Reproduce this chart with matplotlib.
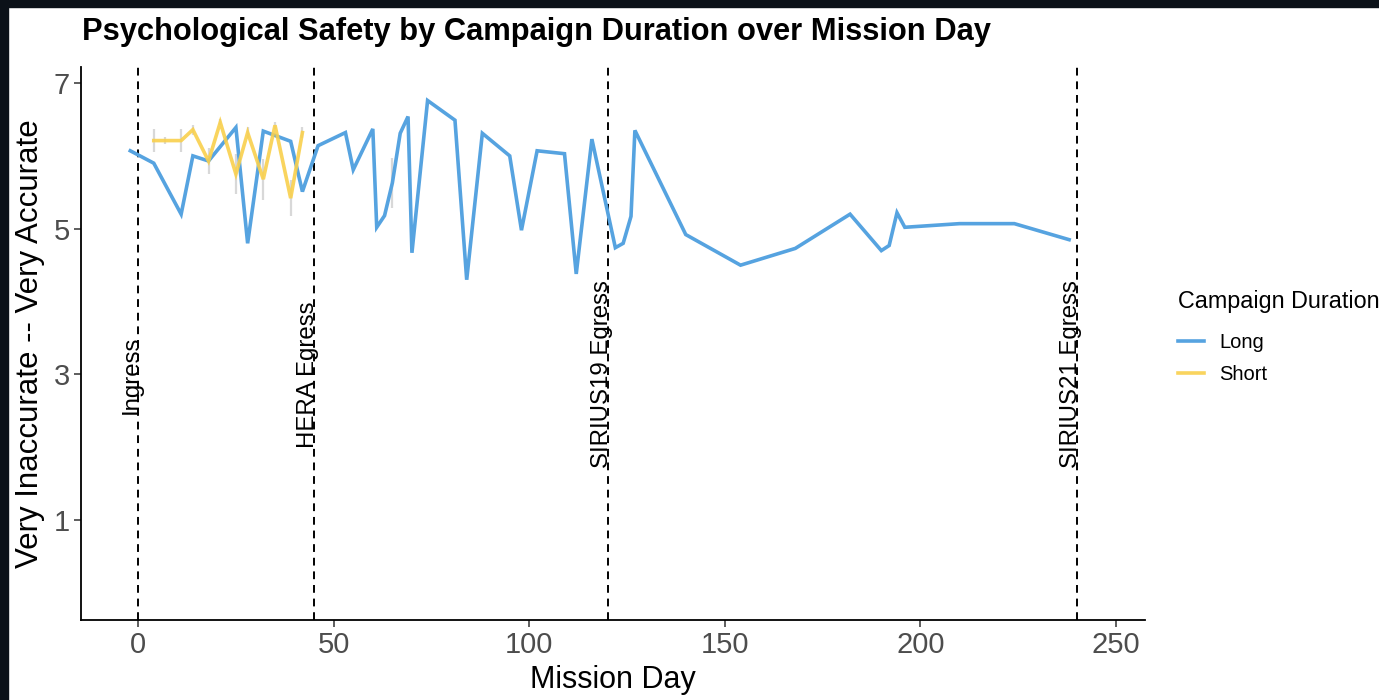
import matplotlib
matplotlib.use("Agg")
import matplotlib.pyplot as plt
from matplotlib.patches import Rectangle
import numpy as np

plt.rcParams['font.family'] = ['Liberation Sans', 'DejaVu Sans']

# mean score per mission day, long campaigns
long_day = [-2, 4, 11, 14, 18, 25, 28, 32, 39, 42, 46, 53, 55, 60, 61, 63, 65, 67,
            69, 70, 74, 81, 84, 88, 95, 98, 102, 109, 112, 116, 122, 124, 126, 127,
            140, 154, 168, 182, 190, 192, 194, 196, 210, 224, 238]
long_val = [6.07, 5.90, 5.20, 6.00, 5.93, 6.39, 4.80, 6.34, 6.20, 5.51, 6.14, 6.32,
            5.81, 6.37, 5.02, 5.18, 5.63, 6.31, 6.54, 4.67, 6.76, 6.49, 4.30, 6.31,
            6.00, 4.98, 6.07, 6.03, 4.38, 6.23, 4.74, 4.80, 5.17, 6.35, 4.92, 4.50,
            4.73, 5.20, 4.70, 4.77, 5.22, 5.02, 5.07, 5.07, 4.85]
long_err_day = [65]
long_err = [0.34]

# short campaigns
short_day = [4, 7, 11, 14, 18, 21, 25, 28, 32, 35, 39, 42]
short_val = [6.21, 6.21, 6.21, 6.36, 5.93, 6.46, 5.75, 6.32, 5.68, 6.42, 5.42, 6.32]
short_err = [0.16, 0.05, 0.16, 0.07, 0.18, 0.04, 0.27, 0.08, 0.28, 0.05, 0.25, 0.07]

event_day = [0, 45, 120, 240]
event_label = ["Ingress", "HERA Egress", "SIRIUS19 Egress", "SIRIUS21 Egress"]

blue = '#56A3E0'
yellow = '#F9D04C'

fig = plt.figure(figsize=(13.79, 7.00), dpi=100)
ax = fig.add_axes([81/1379, 1-620/700, (1145-81)/1379, (620-67)/700])

# error bars (light grey, behind the lines)
s_val = np.array(short_val)
s_err = np.array(short_err)
ax.vlines(short_day, s_val - s_err, s_val + s_err, color='#C8C8C8', lw=1.6, alpha=0.7, zorder=1)
l_at = np.interp(long_err_day, long_day, long_val)
ax.vlines(long_err_day, l_at - np.array(long_err), l_at + np.array(long_err),
          color='#C8C8C8', lw=1.6, alpha=0.7, zorder=1)

ax.plot(long_day, long_val, color=blue, lw=2.6, label='Long', zorder=3, solid_joinstyle='miter')
ax.plot(short_day, short_val, color=yellow, lw=2.6, alpha=0.9, label='Short', zorder=3,
        solid_joinstyle='miter')

for d, lab in zip(event_day, event_label):
    ax.axvline(d, color='black', lw=1.4, ls=(0, (4, 3)), zorder=2)
    ax.text(d, 3, lab, rotation=90, rotation_mode='anchor', ha='center', va='baseline',
            fontsize=17.3, color='black', zorder=4)

ax.set_xlim(-14.6, 257.4)
ax.set_ylim(-0.37, 7.22)
ax.set_xticks([0, 50, 100, 150, 200, 250])
ax.set_yticks([1, 3, 5, 7])
ax.tick_params(axis='both', labelsize=21, labelcolor='#4D4D4D', color='#333333',
               length=5, width=1.1, pad=3)
for side in ['top', 'right']:
    ax.spines[side].set_visible(False)
for side in ['left', 'bottom']:
    ax.spines[side].set_linewidth(1.3)

ax.set_xlabel('Mission Day', fontsize=22, labelpad=4)
ax.set_ylabel('Very Inaccurate -- Very Accurate', fontsize=22.5, labelpad=6)

fig.text(82/1379, 1-40/700, 'Psychological Safety by Campaign Duration over Mission Day',
         fontsize=22.2, fontweight='bold', va='baseline', ha='left')

leg = fig.legend(loc='upper left', bbox_to_anchor=(1160/1379, 1-272/700), frameon=False,
                 title='Campaign Duration', title_fontsize=16.8, fontsize=14.5,
                 handlelength=1.3, handletextpad=0.75, labelspacing=0.65)
leg._legend_box.align = 'left'
leg._legend_box.sep = 14

# dark frame strips along the top and left edges
fig.patches.append(Rectangle((0, 1-7/700), 1, 7/700, transform=fig.transFigure,
                             color='#0B1118', zorder=10))
fig.patches.append(Rectangle((0, 0), 8/1379, 1, transform=fig.transFigure,
                             color='#0B1118', zorder=10))

fig.savefig('out.png', dpi=100)
